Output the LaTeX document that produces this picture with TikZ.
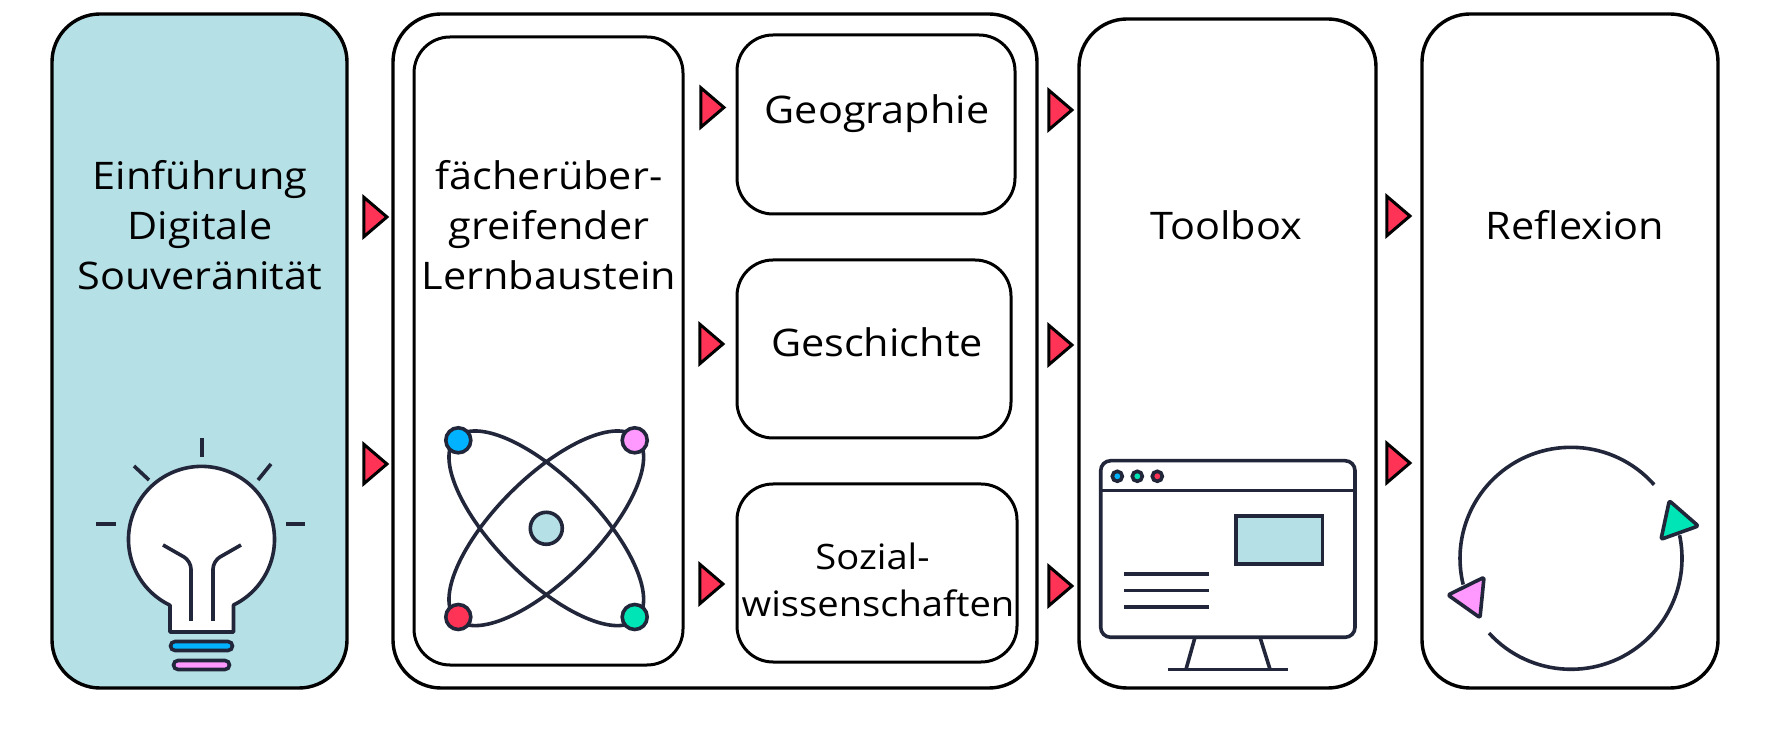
\documentclass[tikz,border=0pt]{standalone}
\usepackage{fontspec}
\setmainfont[FakeStretch=1.09]{Open Sans}
\usetikzlibrary{shapes.geometric}
\definecolor{boxblue}{HTML}{B5E0E6}
\definecolor{inkdark}{HTML}{22263A}
\definecolor{signalred}{HTML}{FF3355}
\definecolor{dotblue}{HTML}{00B2FF}
\definecolor{dotpink}{HTML}{FF99FF}
\definecolor{dotgreen}{HTML}{00E5B5}
\tikzset{
  panel/.style={rectangle, draw=black, line width=3.4pt, rounded corners=48pt, inner sep=0pt},
  subpanel/.style={rectangle, draw=black, line width=3pt, rounded corners=36pt, inner sep=0pt, fill=white},
  label/.style={align=center, inner sep=0pt, font=\fontsize{38}{50}\selectfont},
  smalllabel/.style={align=center, inner sep=0pt, font=\fontsize{35}{47.5}\selectfont},
  pointer/.style={isosceles triangle, isosceles triangle apex angle=81, draw=black, fill=signalred, line width=3pt, inner sep=0pt, minimum height=23pt, minimum width=36pt},
  icon/.style={draw=inkdark, line width=3.6pt},
  dot/.style={circle, draw=inkdark, line width=3.6pt, inner sep=0pt, minimum size=25pt},
  smalldot/.style={circle, draw=inkdark, line width=3.6pt, inner sep=0pt, minimum size=10pt}
}
\begin{document}
\begin{tikzpicture}[x=1pt, y=1pt]
\useasboundingbox (0,0) rectangle (1774,755);

\node[panel, fill=boxblue, minimum width=295pt, minimum height=674pt] (intro) at (199.5,404) {};
\node[panel, minimum width=644pt, minimum height=674pt] (modul) at (715,404) {};
\node[subpanel, minimum width=269pt, minimum height=628pt] (lern) at (548.5,404) {};
\node[subpanel, minimum width=278pt, minimum height=179pt] (geo) at (876,630.5) {};
\node[subpanel, minimum width=274pt, minimum height=178pt] (gesch) at (874,406) {};
\node[subpanel, minimum width=280pt, minimum height=178pt] (sozial) at (877,182) {};
\node[panel, minimum width=297pt, minimum height=669pt] (toolbox) at (1227.5,401.5) {};
\node[panel, minimum width=296pt, minimum height=674pt] (reflexion) at (1570,404) {};

\node[label] (introtext) at (200,530) {Einführung\\Digitale\\Souveränität};
\node[label] (lerntext) at (549,530) {fächerüber-\\greifender\\Lernbaustein};
\node[label] (geotext) at (877,641) {Geographie};
\node[label] (geschtext) at (877,413) {Geschichte};
\node[smalllabel] (sozialtext) at (878,175) {Sozial-\hspace*{11pt}\\wissenschaften};
\node[label] (tooltext) at (1226,530) {Toolbox};
\node[label] (refltext) at (1575,530) {Reflexion};

\node[pointer] (p1) at (373,538) {};
\node[pointer] (p2) at (373,291) {};
\node[pointer] (p3) at (710,647.5) {};
\node[pointer] (p4) at (709,411) {};
\node[pointer] (p5) at (709,171) {};
\node[pointer] (p6) at (1058,645) {};
\node[pointer] (p7) at (1058,410) {};
\node[pointer] (p8) at (1058,169) {};
\node[pointer] (p9) at (1396,539) {};
\node[pointer] (p10) at (1396,292) {};

% bulb
\draw[icon, fill=white, line join=round] (170,150) -- (170,123) -- (233.5,123) -- (233.5,150) arc (-64:244:73) -- cycle;
\draw[icon] (201.7,317) -- (201.7,298);
\draw[icon] (134,289) -- (149,275);
\draw[icon] (271,291) -- (258,275);
\draw[icon] (96,231) -- (116,231);
\draw[icon] (286,231) -- (305,231);
\draw[icon, rounded corners=8pt] (163,210) -- (191,194) -- (191,134);
\draw[icon, rounded corners=8pt] (241,210) -- (213,194) -- (213,134);
\draw[icon, fill=dotblue, rounded corners=4.5pt] (170.5,104.5) rectangle (232.5,113.5);
\draw[icon, fill=dotpink, rounded corners=4.5pt] (173.5,85.5) rectangle (229.5,94.5);

% atom
\coordinate (atomc) at (546.3,226.7);
\draw[icon, rotate around={45:(atomc)}] (atomc) ellipse (128 and 50.5);
\draw[icon, rotate around={-45:(atomc)}] (atomc) ellipse (128 and 50.5);
\node[dot, fill=boxblue, minimum size=32pt] (kern) at (atomc) {};
\node[dot, fill=dotblue] (e1) at (458.3,314.7) {};
\node[dot, fill=dotpink] (e2) at (634.7,314.7) {};
\node[dot, fill=signalred] (e3) at (458.3,138) {};
\node[dot, fill=dotgreen] (e4) at (634.7,138) {};

% monitor
\draw[icon, rounded corners=10pt] (1100.7,117.7) rectangle (1355,294.3);
\draw[icon] (1100.7,264.3) -- (1355,264.3);
\node[smalldot, fill=dotblue] (m1) at (1117.3,278.7) {};
\node[smalldot, fill=dotgreen] (m2) at (1137.3,278.7) {};
\node[smalldot, fill=signalred] (m3) at (1157.3,278.7) {};
\draw[icon, fill=boxblue] (1236,190.7) rectangle (1322.3,239);
\draw[icon] (1124,181) -- (1208.7,181);
\draw[icon] (1124,164.3) -- (1208.7,164.3);
\draw[icon] (1124,148) -- (1208.7,148);
\draw[icon] (1195,117.7) -- (1186,85.7);
\draw[icon] (1260,117.7) -- (1270,85.7);
\draw[icon] (1167.7,85.7) -- (1288.3,85.7);

% cycle
\coordinate (cyclec) at (1571,196.7);
\draw[icon] (cyclec) ++(41.5:111) arc (41.5:193.7:111);
\draw[icon] (cyclec) ++(222.4:111) arc (222.4:372:111);
\draw[icon, fill=dotgreen, line join=round, rounded corners=2pt] (1669.3,254.3) -- (1698.3,229) -- (1661,215.7) -- cycle;
\draw[icon, fill=dotpink, line join=round, rounded corners=2pt] (1484,177.7) -- (1448,160) -- (1480,137.3) -- cycle;
\end{tikzpicture}
\end{document}
